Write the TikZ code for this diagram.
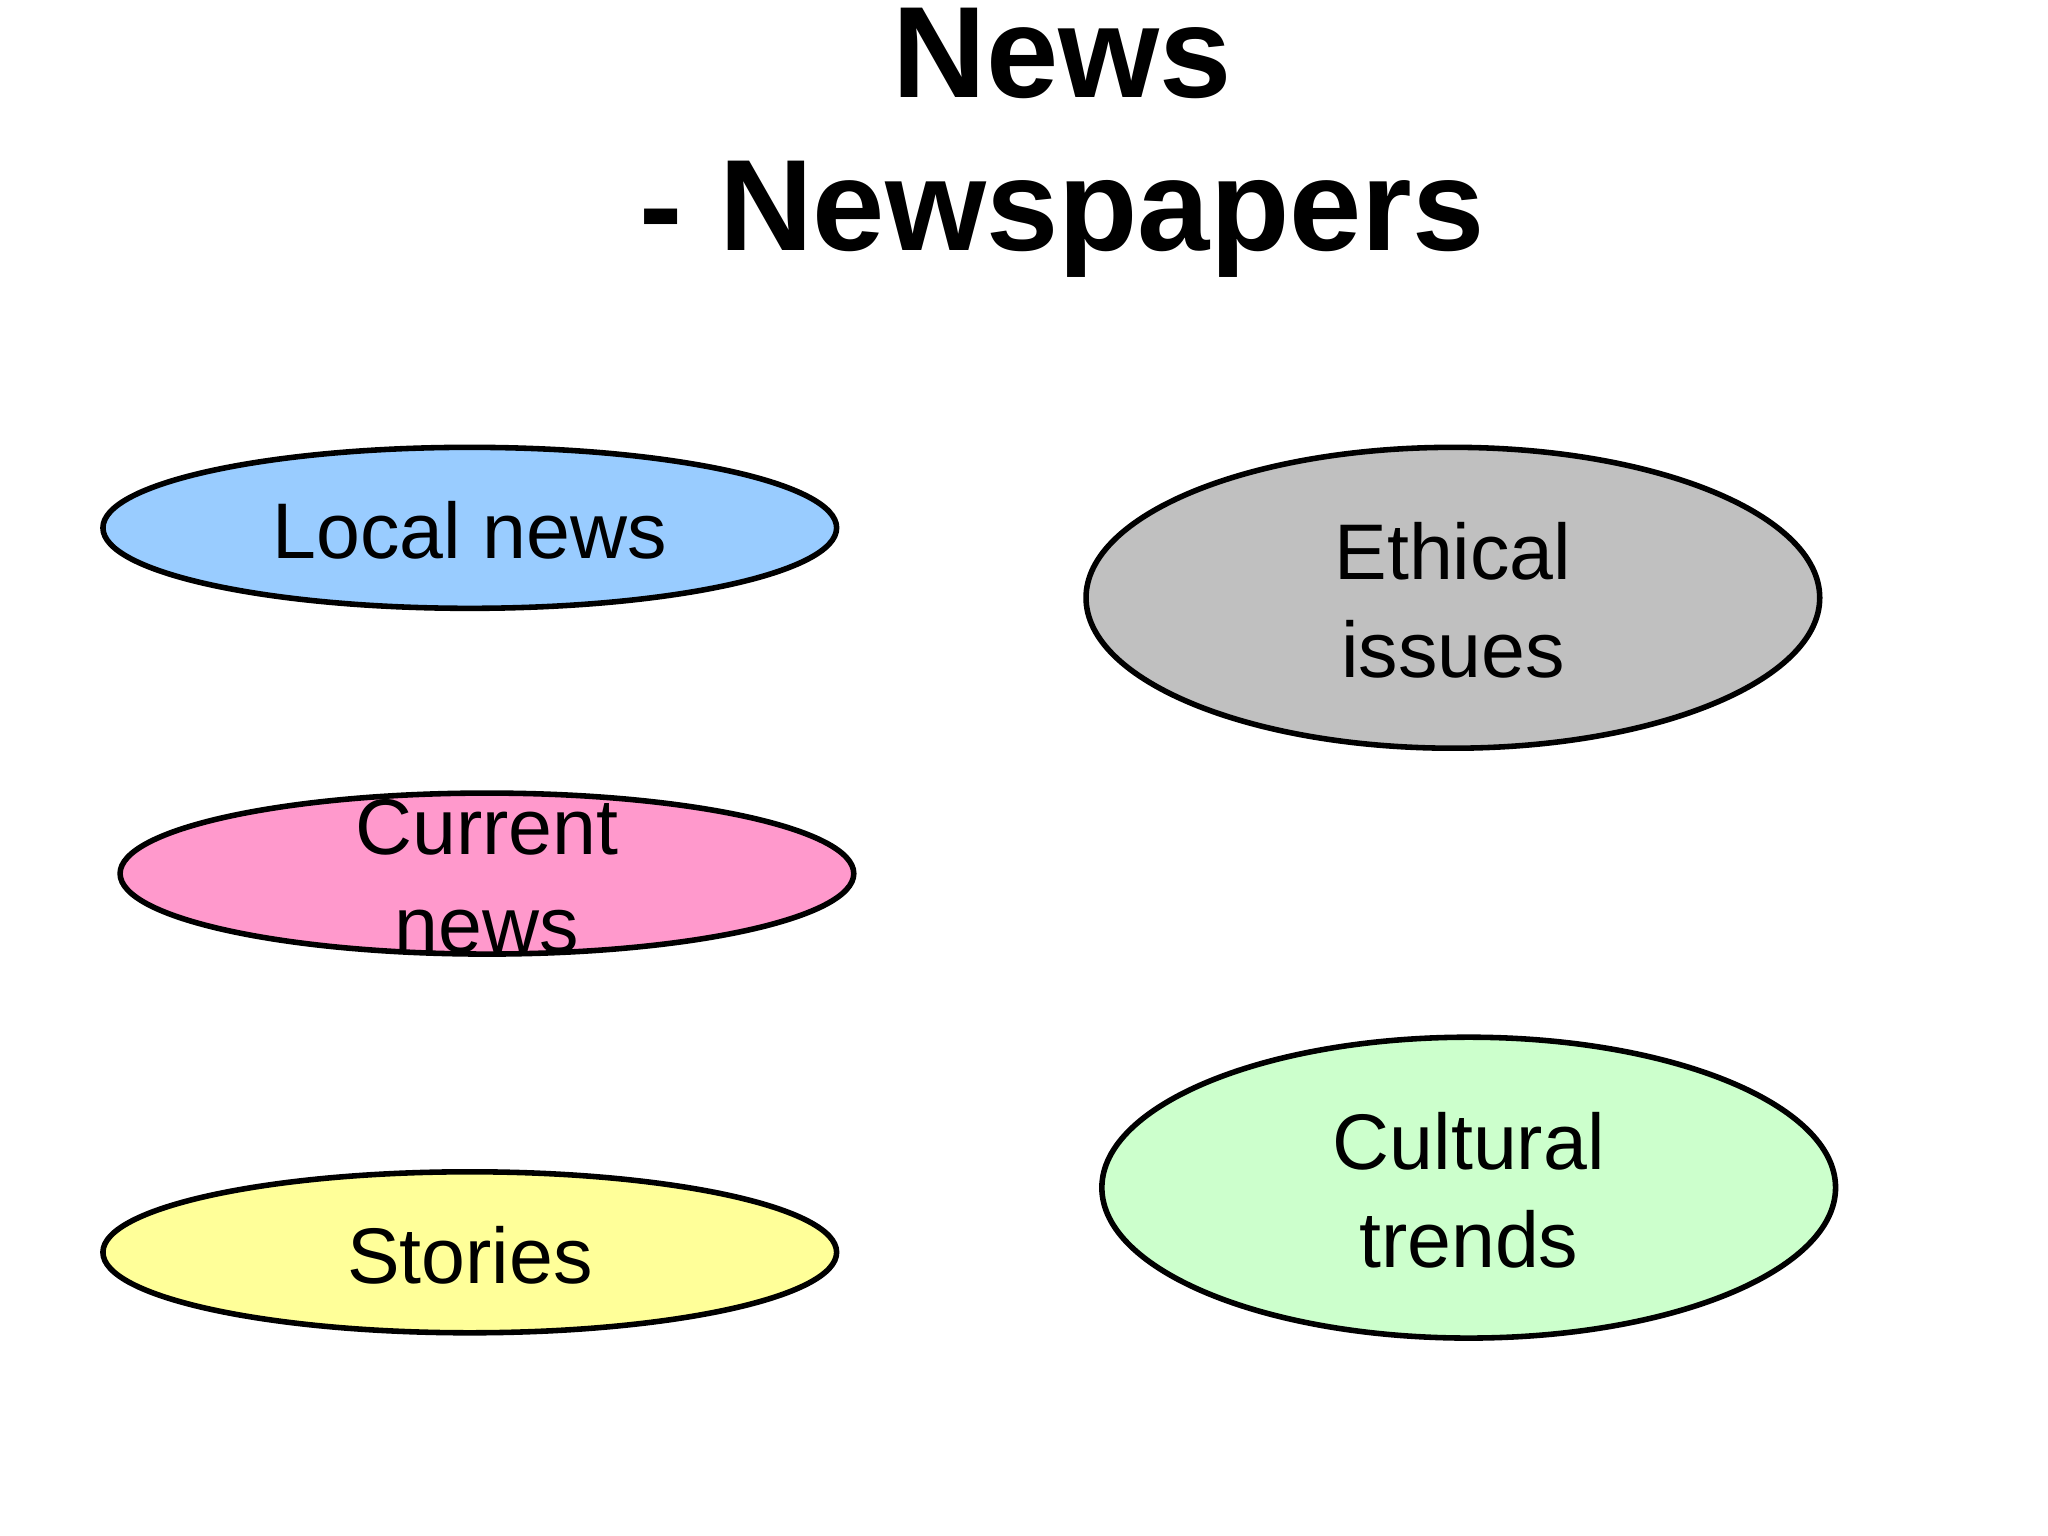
\documentclass[tikz,border=0pt]{standalone}
\usepackage{fontspec}
\setmainfont{Liberation Sans}
\definecolor{cblue}{HTML}{99CCFF}
\definecolor{cpink}{HTML}{FF99CC}
\definecolor{cyel}{HTML}{FFFF99}
\definecolor{cgray}{HTML}{C0C0C0}
\definecolor{cgreen}{HTML}{CCFFCC}
\begin{document}
\begin{tikzpicture}[x=0.01cm,y=-0.01cm,
  oval/.style={draw=black,line width=1.2pt},
  lbl/.style={align=center,font=\fontsize{17}{21}\selectfont}]
\useasboundingbox (0,0) rectangle (1552,1164);
\node[font=\bfseries\fontsize{28}{33}\selectfont,align=center] (title) at (805,108) {News\\- Newspapers};
\filldraw[oval,fill=cblue] (356,400) ellipse [x radius=278,y radius=61];
\node[lbl] (local) at (356,402) {Local news};
\filldraw[oval,fill=cpink] (369,662) ellipse [x radius=278,y radius=61];
\node[lbl] (current) at (369,664) {Current\\news};
\filldraw[oval,fill=cyel] (356,949) ellipse [x radius=278,y radius=61];
\node[lbl] (stories) at (356,951) {Stories};
\filldraw[oval,fill=cgray] (1101,453) ellipse [x radius=278,y radius=114];
\node[lbl] (ethical) at (1101,455) {Ethical\\issues};
\filldraw[oval,fill=cgreen] (1113,900) ellipse [x radius=278,y radius=114];
\node[lbl] (cultural) at (1113,902) {Cultural\\trends};
\end{tikzpicture}
\end{document}
